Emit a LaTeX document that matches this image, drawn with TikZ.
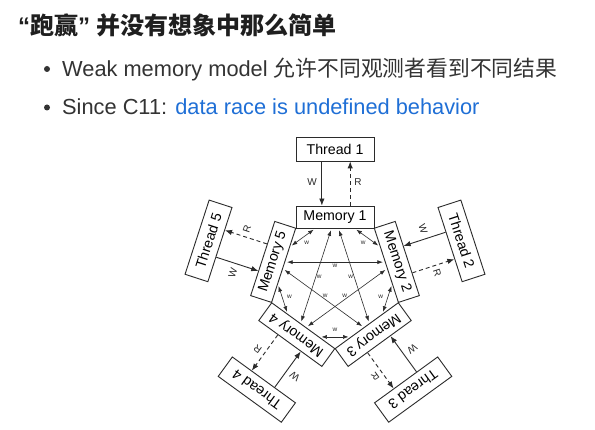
\documentclass[tikz,border=0pt]{standalone}
\usepackage{fontspec}
\setmainfont{Liberation Sans}
\newfontfamily\cjk{Noto Sans CJK SC}
\usetikzlibrary{calc,arrows.meta}
\definecolor{titlec}{HTML}{1F1F1F}
\definecolor{txt}{HTML}{333333}
\definecolor{linkc}{HTML}{1F6FD6}
\definecolor{ln}{HTML}{2B2B2B}
\begin{document}
\begin{tikzpicture}[x=1pt,y=1pt,
  membox/.style={draw=ln, line width=0.9pt, minimum width=78pt, minimum height=22pt, inner sep=0pt, font=\fontsize{14.2}{15}\selectfont, text=black},
  thrbox/.style={membox, minimum height=24pt},
  wl/.style={font=\fontsize{6.5}{7}\selectfont, inner sep=0pt, text=ln},
  tl/.style={font=\fontsize{10}{10}\selectfont, inner sep=0pt, text=ln},
  tarrow/.style={draw=ln, line width=0.9pt, -{Latex[length=7pt,width=5.5pt]}},
  rdash/.style={dash pattern=on 4pt off 3pt},
  marrow/.style={draw=ln, line width=0.6pt, {Latex[length=5.5pt,width=4pt]}-{Latex[length=5.5pt,width=4pt]}, shorten <=2pt, shorten >=2pt}]
\useasboundingbox (0,0) rectangle (595,-430);
\fill[white] (0,0) rectangle (595,-430);

% header text
\node[anchor=base west, inner sep=0pt, text=titlec, font=\fontsize{24}{28}\selectfont\bfseries] (title) at (18,-35) {“{\cjk 跑赢}” {\cjk 并没有想象中那么简单}};
\node[circle, fill=txt, inner sep=0pt, minimum size=6pt] (b1) at (47,-69) {};
\node[anchor=base west, inner sep=0pt, text=txt, font=\fontsize{21.8}{26}\selectfont] (l1) at (62,-77) {Weak memory model {\cjk 允许不同观测者看到不同结果}};
\node[circle, fill=txt, inner sep=0pt, minimum size=6pt] (b2) at (47,-107.5) {};
\node[anchor=base west, inner sep=0pt, text=txt, font=\fontsize{21.8}{26}\selectfont] (l2) at (62,-115) {Since C11: \textcolor{linkc}{data race is undefined behavior}};

% diagram
\coordinate (C) at (335,-282);
\foreach \k in {1,...,5}{
  \begin{scope}[shift={(C)}, rotate={-72*(\k-1)}, transform shape]
    \node[membox] (m\k) at (0,65) {Memory \k};
    \node[thrbox] (t\k) at (0,133) {Thread \k};
    \draw[tarrow] ($(t\k.south)!0.333!(t\k.south west)$) -- ($(m\k.north)!0.333!(m\k.north west)$);
    \draw[tarrow, rdash] ($(m\k.north)!0.385!(m\k.north east)$) -- ($(t\k.south)!0.385!(t\k.south east)$);
    \node[tl] (W\k) at (-23,100) {W};
    \node[tl] (R\k) at (23,100) {R};
  \end{scope}
}
\foreach \k in {1,...,5}{
  \pgfmathtruncatemacro{\ka}{mod(\k,5)+1}
  \pgfmathtruncatemacro{\kb}{mod(\k+1,5)+1}
  \draw[marrow] ($(m\k.south west)!0.75!(m\k.south east)$) -- ($(m\ka.south west)!0.25!(m\ka.south east)$);
  \draw[marrow] ($(m\k.south west)!0.544!(m\k.south east)$) -- ($(m\kb.south west)!0.456!(m\kb.south east)$);
  \node[wl] (wa\k) at ($(C)+({54-72*(\k-1)}:48)$) {w};
  \node[wl] (wd\k) at ($(C)+({90-72*\k}:16.5)$) {w};
}
\end{tikzpicture}
\end{document}
